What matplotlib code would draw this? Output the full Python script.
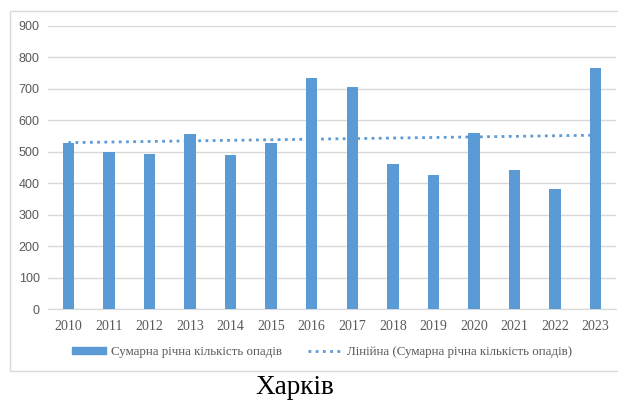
import matplotlib
matplotlib.use("Agg")
import matplotlib.pyplot as plt
import matplotlib.patches as patches
from matplotlib.lines import Line2D
import numpy as np

years = [2010, 2011, 2012, 2013, 2014, 2015, 2016, 2017, 2018, 2019, 2020, 2021, 2022, 2023]
precip = [529, 498, 493, 557, 489, 527, 735, 707, 461, 427, 561, 441, 383, 765]
y_ticks = [0, 100, 200, 300, 400, 500, 600, 700, 800, 900]

BAR_COLOR = "#5B9BD5"
TEXT_COLOR = "#595959"
GRID_COLOR = "#D9D9D9"

fig = plt.figure(figsize=(6.18, 4.01), dpi=100)
W, H = 618, 401

# chart frame
fig.patches.append(patches.Rectangle((10 / W, 1 - 371 / H), 620 / W, 360 / H,
                                     transform=fig.transFigure, fill=False,
                                     edgecolor="#D9D9D9", linewidth=1))

ax = fig.add_axes([48 / W, 1 - 309 / H, 568 / W, 283 / H])
x = np.arange(len(years))
ax.bar(x, precip, width=0.28, color=BAR_COLOR, zorder=3)

# linear trend (as Excel does)
k, b = np.polyfit(x, precip, 1)
ax.plot(x, k * x + b, linestyle=(0, (1, 1.6)), linewidth=2.0, color=BAR_COLOR, zorder=4)

ax.set_xlim(-0.5, len(years) - 0.5)
ax.set_ylim(0, 900)
ax.set_yticks(y_ticks)
ax.set_xticks(x)
ax.set_xticklabels([str(y) for y in years], family="Liberation Serif", fontsize=10, color=TEXT_COLOR)
ax.set_yticklabels([str(v) for v in y_ticks], family="Liberation Sans", fontsize=9, color=TEXT_COLOR)
ax.yaxis.grid(True, color=GRID_COLOR, linewidth=1, zorder=0)
ax.tick_params(length=0, pad=6)
ax.tick_params(axis="x", pad=8)
for s in ["top", "right", "left"]:
    ax.spines[s].set_visible(False)
ax.spines["bottom"].set_color(GRID_COLOR)

handles = [patches.Patch(color=BAR_COLOR),
           Line2D([0], [0], color=BAR_COLOR, linestyle=(0, (1, 1.6)), linewidth=2.0)]
labels = ["Сумарна річна кількість опадів", "Лінійна (Сумарна річна кількість опадів)"]
leg = fig.legend(handles, labels, loc="center", bbox_to_anchor=(322 / W, 1 - 352 / H),
                 ncol=2, frameon=False, handlelength=2.6, handleheight=0.45,
                 columnspacing=2.0, handletextpad=0.4,
                 prop={"family": "Liberation Serif", "size": 9.35})
for t in leg.get_texts():
    t.set_color(TEXT_COLOR)

fig.text(295 / W, 1 - 388 / H, "Харків", ha="center", va="center",
         family="Liberation Serif", fontsize=19.5, color="black")

fig.savefig("out.png", dpi=100)
